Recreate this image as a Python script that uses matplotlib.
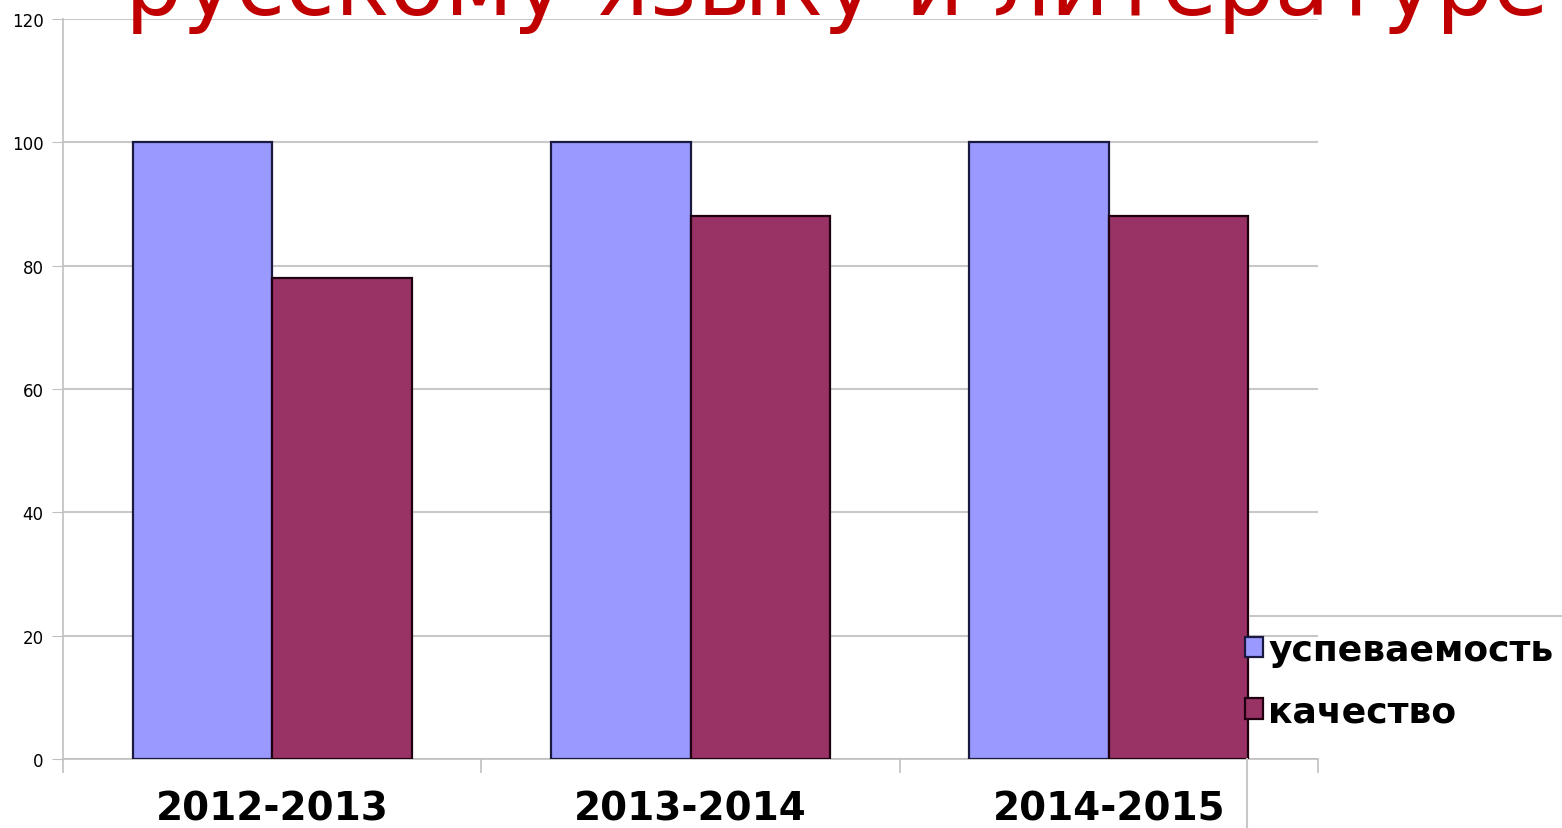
import matplotlib
matplotlib.use("Agg")
import matplotlib.pyplot as plt
from matplotlib.lines import Line2D
import numpy as np

years = ["2012-2013", "2013-2014", "2014-2015"]
uspev = [100, 100, 100]
kach = [78, 88, 88]
series_names = ["успеваемость", "качество"]
title = "русскому языку и литературе"

W, H = 1562, 829
fig = plt.figure(figsize=(W / 100, H / 100), dpi=100)
ax = fig.add_axes([63 / W, 1 - 760 / H, (1318 - 63) / W, (760 - 20) / H])

x = np.arange(len(years))
bw = 1 / 3
ax.bar(x - bw / 2, uspev, bw, color="#9999ff", edgecolor="#1a1a40", linewidth=1.6, zorder=3, label=series_names[0])
ax.bar(x + bw / 2, kach, bw, color="#993366", edgecolor="#200010", linewidth=1.6, zorder=3, label=series_names[1])

ax.set_xlim(-0.5, 2.5)
ax.set_ylim(0, 120)
ax.set_yticks(range(0, 121, 20))
ax.yaxis.grid(True, color="#c8c8c8", linewidth=1.5, zorder=0)
for s in ["top", "right"]:
    ax.spines[s].set_visible(False)
ax.spines["left"].set_color("#c0c0c0")
ax.spines["bottom"].set_color("#c0c0c0")
ax.spines["left"].set_linewidth(1.2)
ax.spines["bottom"].set_linewidth(1.2)
ax.tick_params(axis="y", length=8, color="#c0c0c0", labelsize=12, pad=6)
ax.set_xticks(x)
ax.set_xticklabels(years, fontsize=28, fontweight="bold")
ax.tick_params(axis="x", which="major", length=0, pad=22)
ax.set_xticks([-0.5, 0.5, 1.5, 2.5], minor=True)
ax.tick_params(axis="x", which="minor", length=10, color="#c0c0c0", width=1.2)

fig.text(125 / W, 1 - 15 / H, title, color="#c00000", fontsize=65, va="baseline", ha="left")

leg = ax.legend(loc="upper left", bbox_to_anchor=(1245 / W, 1 - 634 / H), bbox_transform=fig.transFigure,
                frameon=False, prop={"weight": "bold", "size": 26},
                handlelength=0.5, handleheight=0.5, handletextpad=0.15, labelspacing=0.75, borderpad=0, borderaxespad=0)

fig.add_artist(Line2D([1250 / W, 1], [1 - 617 / H] * 2, color="#c8c8c8", linewidth=1.5))
fig.add_artist(Line2D([1247 / W] * 2, [1 - 760 / H, 0], color="#c8c8c8", linewidth=1.5))

fig.savefig("out.png", dpi=100)
